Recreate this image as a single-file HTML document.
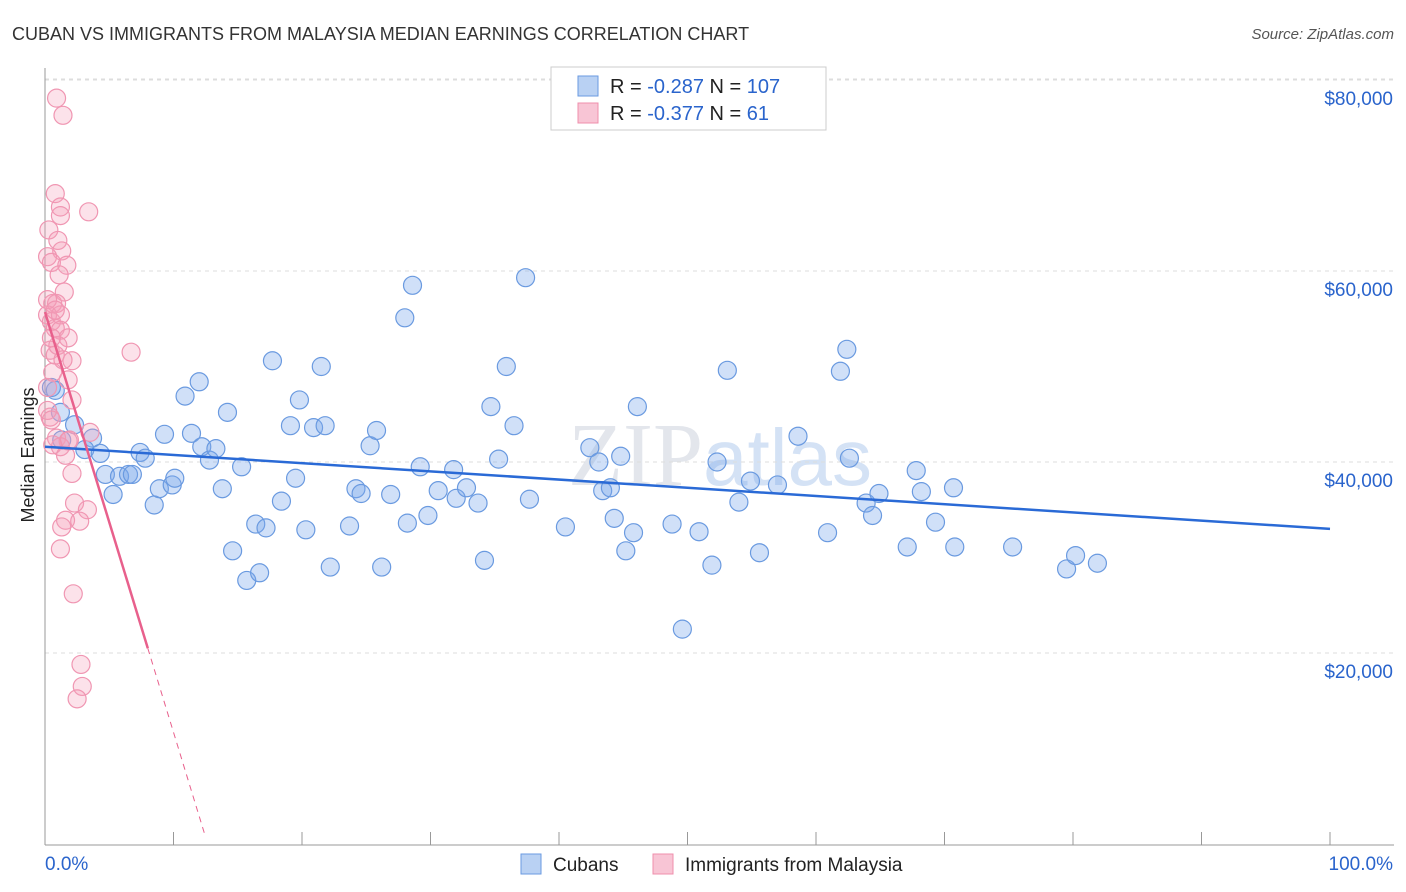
<!DOCTYPE html>
<html><head><meta charset="utf-8"><style>
body{margin:0;background:#fff;font-family:"Liberation Sans",sans-serif}
svg{display:block}
</style></head><body>
<svg id="chart" width="1406" height="892" viewBox="0 0 1406 892">
<text x="12" y="40" font-size="18" fill="#333">CUBAN VS IMMIGRANTS FROM MALAYSIA MEDIAN EARNINGS CORRELATION CHART</text>
<text x="1394" y="39" font-size="15" fill="#555" text-anchor="end" font-style="italic">Source: ZipAtlas.com</text>
<text x="720" y="485" font-size="90" fill="#e3e6ec" text-anchor="middle" font-family="Liberation Serif,serif">ZIP<tspan fill="#d4e2f5" font-family="Liberation Sans,sans-serif" font-size="80">atlas</tspan></text>
<g id="grid"></g>
<g id="axes"></g>
<text transform="translate(34,455) rotate(-90)" font-size="18" fill="#222" text-anchor="middle">Median Earnings</text>
<g id="trend"></g>
<g id="pts"></g>
<g>
<rect x="551" y="67" width="275" height="63" fill="#fff" stroke="#ccc"/>
<rect x="578" y="76" width="20" height="20" fill="#b9d1f3" stroke="#6a9ae0"/>
<rect x="578" y="103" width="20" height="20" fill="#f8c5d5" stroke="#ef8fac"/>
<text x="610" y="93" font-size="20" fill="#222">R = <tspan fill="#2a64cc">-0.287</tspan>   N = <tspan fill="#2a64cc">107</tspan></text>
<text x="610" y="120" font-size="20" fill="#222">R = <tspan fill="#2a64cc">-0.377</tspan>   N =   <tspan fill="#2a64cc">61</tspan></text>
</g>
<g>
<rect x="521" y="854" width="20" height="20" fill="#b9d1f3" stroke="#6a9ae0"/>
<text x="553" y="871" font-size="19" fill="#222">Cubans</text>
<rect x="653" y="854" width="20" height="20" fill="#f8c5d5" stroke="#ef8fac"/>
<text x="685" y="871" font-size="19" fill="#222">Immigrants from Malaysia</text>
</g>
</svg>
<script>
const yTicks=[20,40,60,80];
const yTickLabels=["$20,000","$40,000","$60,000","$80,000"];
const xTickLabels=["0.0%","100.0%"];
const bluePct=[0.8,1.2,1.3,2.3,3.7,3.1,4.3,4.7,5.3,5.8,6.5,6.8,7.4,7.8,8.5,8.9,9.3,9.9,10.1,10.9,11.4,12.0,12.2,12.8,13.3,13.8,14.2,14.6,15.3,15.7,16.4,16.7,17.2,17.7,18.4,19.1,19.5,19.8,20.3,20.9,21.5,21.8,22.2,23.7,24.2,24.6,25.3,25.8,26.2,26.9,28.0,28.2,28.6,29.2,29.8,30.6,31.8,32.0,32.8,33.7,34.2,34.7,35.3,35.9,36.5,37.4,37.7,40.5,42.4,43.1,43.4,44.0,44.3,44.8,45.2,45.8,46.1,48.8,49.6,50.9,51.9,52.3,53.1,54.0,54.9,55.6,57.0,58.6,60.9,61.9,62.4,62.6,63.9,64.4,64.9,67.1,67.8,68.2,69.3,70.7,70.8,75.3,79.5,80.2,81.9,0.5];
const blueVal=[47.5,45.2,42.3,43.9,42.5,41.3,40.9,38.7,36.6,38.5,38.7,38.7,41.0,40.4,35.5,37.2,42.9,37.6,38.3,46.9,43.0,48.4,41.6,40.2,41.4,37.2,45.2,30.7,39.5,27.6,33.5,28.4,33.1,50.6,35.9,43.8,38.3,46.5,32.9,43.6,50.0,43.8,29.0,33.3,37.2,36.7,41.7,43.3,29.0,36.6,55.1,33.6,58.5,39.5,34.4,37.0,39.2,36.2,37.3,35.7,29.7,45.8,40.3,50.0,43.8,59.3,36.1,33.2,41.5,40.0,37.0,37.3,34.1,40.6,30.7,32.6,45.8,33.5,22.5,32.7,29.2,40.0,49.6,35.8,38.0,30.5,37.6,42.7,32.6,49.5,51.8,40.4,35.7,34.4,36.7,31.1,39.1,36.9,33.7,37.3,31.1,31.1,28.8,30.2,29.4,47.8];
const pinkPct=[0.9,1.4,0.8,3.4,1.2,1.2,0.3,1.0,1.3,0.2,0.5,1.7,1.1,1.5,0.6,0.9,0.2,0.5,1.2,0.8,1.2,1.8,0.4,0.8,2.1,6.7,0.6,1.8,0.2,2.1,0.4,3.5,0.9,1.8,1.2,2.1,0.6,2.3,3.3,1.6,2.7,1.3,1.2,2.2,2.8,2.9,2.5,0.2,0.5,1.6,1.9,1.0,0.5,1.4,0.2,0.8];
const pinkVal=[78.1,76.3,68.1,66.2,66.7,65.8,64.3,63.2,62.1,61.5,60.9,60.6,59.6,57.8,56.6,56.6,55.4,54.7,55.4,54.0,53.8,53.0,51.7,51.2,50.6,51.5,49.4,48.6,47.8,46.5,44.7,43.1,42.5,42.2,41.6,38.8,41.8,35.7,35.0,33.9,33.8,33.2,30.9,26.2,18.8,16.5,15.2,45.4,44.4,40.7,42.3,52.2,53.0,50.7,57.0,55.9];
const blueTrend=[41.6,33.0];       // value at 0% and 100%
const pinkTrend=[55.7,-4.4];       // intercept, slope per %
const pinkSolidEnd=8.0, pinkDashEnd=12.45;

const NS="http://www.w3.org/2000/svg";
const X=p=>45+p*12.85, Y=v=>844-v*9.55;
function mk(tag,attrs,parent){const e=document.createElementNS(NS,tag);for(const k in attrs)e.setAttribute(k,attrs[k]);parent.appendChild(e);return e;}
const grid=document.getElementById('grid'),axes=document.getElementById('axes'),trend=document.getElementById('trend'),pts=document.getElementById('pts');
mk('line',{x1:45,y1:79,x2:1394,y2:79,stroke:'#ddd','stroke-dasharray':'4,4'},grid);
yTicks.forEach((v,i)=>{
 const l=mk('line',{x1:45,y1:Y(v),x2:1394,y2:Y(v),stroke:'#ddd','stroke-dasharray':'4,4'},grid);
 
 
 const t=mk('text',{x:1393,y:Y(v)+25,'font-size':19,fill:'#2a64cc','text-anchor':'end'},grid);
 t.textContent=yTickLabels[i];
 
 
});
mk('line',{x1:45,y1:68,x2:45,y2:845,stroke:'#999'},axes);
mk('line',{x1:45,y1:845,x2:1394,y2:845,stroke:'#999'},axes);
for(let i=0;i<=10;i++){const t=mk('line',{x1:X(i*10),y1:832,x2:X(i*10),y2:845,stroke:'#999'},axes);
 
 }
const xl0=mk('text',{x:45,y:870,'font-size':19,fill:'#2a64cc'},axes);xl0.textContent=xTickLabels[0];


const xl1=mk('text',{x:1393,y:870,'font-size':19,fill:'#2a64cc','text-anchor':'end'},axes);xl1.textContent=xTickLabels[1];



bluePct.forEach((p,i)=>{const c=mk('circle',{cx:X(p),cy:Y(blueVal[i]),r:9,fill:'rgba(120,165,235,0.35)',stroke:'#6a9ae0','stroke-width':1.2},pts);
 
 });
pinkPct.forEach((p,i)=>{const c=mk('circle',{cx:X(p),cy:Y(pinkVal[i]),r:9,fill:'rgba(245,160,185,0.3)',stroke:'#f096b2','stroke-width':1.2},pts);
 
 });

const bt=mk('line',{x1:X(0),y1:Y(blueTrend[0]),x2:X(100),y2:Y(blueTrend[1]),stroke:'#2a6ad6','stroke-width':2.5},pts);


const pv=p=>pinkTrend[0]+pinkTrend[1]*p;
const pt=mk('line',{x1:X(0),y1:Y(pv(0)),x2:X(pinkSolidEnd),y2:Y(pv(pinkSolidEnd)),stroke:'#e8608c','stroke-width':2.5},pts);


const pd=mk('line',{x1:X(pinkSolidEnd),y1:Y(pv(pinkSolidEnd)),x2:X(pinkDashEnd),y2:Y(pv(pinkDashEnd)),stroke:'#e8608c','stroke-width':1,'stroke-dasharray':'6,5'},pts);


</script>
</body></html>
